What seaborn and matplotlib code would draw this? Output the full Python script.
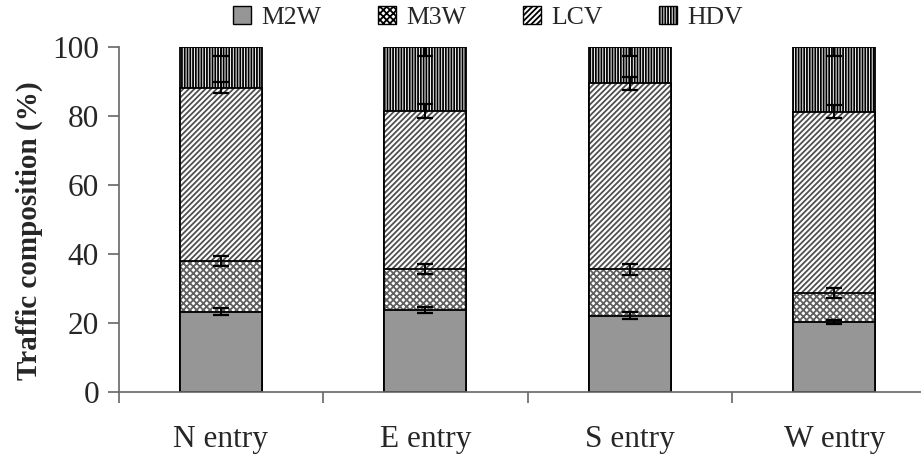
import numpy as np
import pandas as pd
import matplotlib
matplotlib.use("Agg")
import matplotlib.pyplot as plt
from matplotlib.patches import Patch
import seaborn as sns

categories = ["N entry", "E entry", "S entry", "W entry"]
m2w = [23.2, 23.7, 22.1, 20.3]
m3w = [14.7, 11.9, 13.4, 8.3]
lcv = [50.4, 45.9, 54.0, 52.7]
hdv = [11.7, 18.5, 10.5, 18.7]
m2w_err = [1.0, 0.9, 0.9, 0.6]
m3w_err = [1.5, 1.4, 1.5, 1.5]
lcv_err = [1.5, 1.9, 1.8, 1.9]
hdv_err_low = [2.5, 2.4, 2.4, 2.4]
hdv_err_up = [1.0, 1.0, 1.0, 1.0]
yticks = [0, 20, 40, 60, 80, 100]

sns.set_style("white")
plt.rcParams['font.family'] = ['Liberation Serif', 'DejaVu Serif']
plt.rcParams['hatch.linewidth'] = 1.3

fig = plt.figure(figsize=(9.21, 4.63), dpi=100)
ax = fig.add_axes([118.5/921, 1-391.7/463, 818/921, (391.7-47.3)/463])

series = ["M2W", "M3W", "LCV", "HDV"]
vals = {"M2W": m2w, "M3W": m3w, "LCV": lcv, "HDV": hdv}
cum = {}
run = np.zeros(len(categories))
for s in series:
    run = run + np.array(vals[s])
    cum[s] = run.copy()
df = pd.DataFrame({"cat": categories, **{s: cum[s] for s in series}})

styles = {
    "M2W": dict(color="#969696", hatch=None, hcol="#969696"),
    "M3W": dict(color="white", hatch="xxxxx", hcol="#606060"),
    "LCV": dict(color="white", hatch="//////", hcol="#505050"),
    "HDV": dict(color="white", hatch="||||||", hcol="#000000"),
}
# draw from tallest (cumulative) to shortest so lower segments overlay
for s in reversed(series):
    st = styles[s]
    sns.barplot(data=df, x="cat", y=s, ax=ax, width=0.4,
                color=st["color"], hatch=st["hatch"], edgecolor=st["hcol"],
                linewidth=0, saturation=1, errorbar=None)
    sns.barplot(data=df, x="cat", y=s, ax=ax, width=0.4,
                fill=False, edgecolor="black", linewidth=1.3, errorbar=None)

x = np.arange(len(categories))
ekw = dict(fmt="none", ecolor="black", elinewidth=1.4, capsize=6, capthick=1.6, zorder=5)
ax.errorbar(x, cum["M2W"], yerr=m2w_err, **ekw)
ax.errorbar(x, cum["M3W"], yerr=m3w_err, **ekw)
ax.errorbar(x, cum["LCV"], yerr=lcv_err, **ekw)
eb = ax.errorbar(x, cum["HDV"], yerr=[hdv_err_low, hdv_err_up], **ekw)
caps = eb.lines[1]
if len(caps) > 1:
    caps[1].set_visible(False)

ax.set_xlim(-0.5, 3.5)
ax.set_ylim(0, 100)
ax.set_yticks(yticks)
ax.set_yticklabels([str(v) for v in yticks], fontsize=22.5)
ax.set_xticks(x)
ax.set_xticklabels(categories, fontsize=22.5)
ax.set_xticks([-0.5, 0.5, 1.5, 2.5], minor=True)
ax.tick_params(axis="x", which="major", length=0, pad=24)
ax.tick_params(axis="x", which="minor", length=8, width=1.2, color="#666666", direction="out", bottom=True)
ax.tick_params(axis="y", which="major", length=8, width=1.2, color="#666666", direction="out", left=True, pad=6)
ax.set_xlabel("")
ax.set_ylabel("Traffic composition (%)", fontsize=21, fontweight="bold")
ax.yaxis.set_label_coords(-0.092, 0.467)
for sp in ["top", "right"]:
    ax.spines[sp].set_visible(False)
for sp in ["left", "bottom"]:
    ax.spines[sp].set_color("#666666")
    ax.spines[sp].set_linewidth(1.2)

handles = [Patch(facecolor=styles[s]["color"], hatch=styles[s]["hatch"],
                 edgecolor="black", linewidth=1) for s in series]
fig.legend(handles, series, loc="center", bbox_to_anchor=(0.53, 0.962), ncol=4,
           frameon=False, fontsize=18.5, handlelength=0.7, handleheight=0.7,
           handletextpad=0.4, columnspacing=2.2)

fig.savefig("out.png", dpi=100)
